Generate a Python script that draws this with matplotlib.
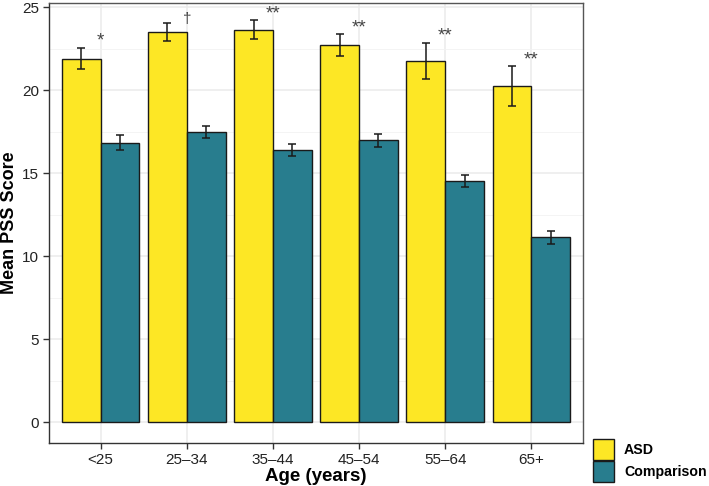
import numpy as np
import matplotlib.pyplot as plt
from matplotlib.patches import Patch

plt.rcParams['font.family'] = ['Liberation Sans', 'DejaVu Sans']

# values
age_groups = ['<25', '25-34', '35-44', '45-54', '55-64', '65+']
asd_mean = [21.9, 23.5, 23.65, 22.7, 21.75, 20.25]
asd_err = [0.65, 0.53, 0.55, 0.67, 1.1, 1.2]
comp_mean = [16.83, 17.49, 16.4, 16.97, 14.52, 11.13]
comp_err = [0.45, 0.36, 0.38, 0.4, 0.37, 0.4]
sig_labels = ['*', '\u2020', '**', '**', '**', '**']

asd_color = '#FDE725'
comp_color = '#287D8E'
edge = '#1a1a1a'

fig = plt.figure(figsize=(7.09, 4.86), dpi=100)
ax = fig.add_axes([0.0691, 0.0885, 0.7532, 0.9053])

x = np.arange(1, len(age_groups) + 1)
w = 0.45

ax.bar(x - w / 2, asd_mean, width=w, color=asd_color, edgecolor=edge, linewidth=1, zorder=2)
ax.bar(x + w / 2, comp_mean, width=w, color=comp_color, edgecolor=edge, linewidth=1, zorder=2)
ax.errorbar(x - w / 2, asd_mean, yerr=asd_err, fmt='none', ecolor=edge, elinewidth=1.1, capsize=3, capthick=1.1, zorder=3)
ax.errorbar(x + w / 2, comp_mean, yerr=comp_err, fmt='none', ecolor=edge, elinewidth=1.1, capsize=3, capthick=1.1, zorder=3)

# significance markers above the group centre (asterisks sit high in the glyph box)
for xi, m, e, lab in zip(x, asd_mean, asd_err, sig_labels):
    if lab == '\u2020':
        ax.text(xi, m + e + 0.0, lab, ha='center', va='baseline', fontsize=11,
                color='#444444', zorder=4, clip_on=False)
    else:
        ax.text(xi, m + e + 0.12, lab, ha='center', va='baseline', fontsize=13.5,
                color='#444444', zorder=4, clip_on=False)

ax.set_xlim(0.4, 6.6)
ax.set_ylim(-1.25, 25.25)
ax.set_xticks(x)
ax.set_xticklabels([g.replace('-', '\u2013') for g in age_groups])
ax.set_yticks([0, 5, 10, 15, 20, 25])
ax.set_yticks(np.arange(2.5, 25, 5), minor=True)

ax.grid(True, which='major', color='#EBEBEB', linewidth=1.1, zorder=0)
ax.grid(True, which='minor', axis='y', color='#F2F2F2', linewidth=0.6, zorder=0)
ax.set_axisbelow(True)

for s in ax.spines.values():
    s.set_color('#555555')
    s.set_linewidth(1)
ax.spines['left'].set_color('#333333')
ax.spines['bottom'].set_color('#333333')

ax.tick_params(axis='both', which='major', length=4, width=1, color='#333333',
               labelsize=11, labelcolor='#222222', pad=3)
ax.tick_params(axis='y', which='minor', length=0)

ax.set_xlabel('Age (years)', fontsize=13.5, fontweight='bold', labelpad=1)
ax.set_ylabel('Mean PSS Score', fontsize=13, fontweight='bold', labelpad=3)

handles = [Patch(facecolor=asd_color, edgecolor=edge, label='ASD'),
           Patch(facecolor=comp_color, edgecolor=edge, label='Comparison')]
fig.legend(handles=handles, loc='lower left', bbox_to_anchor=(593 / 709, 4 / 486), frameon=False,
           handlelength=1.48, handleheight=1.9, labelspacing=0.1, handletextpad=0.7,
           borderpad=0, borderaxespad=0, prop={'weight': 'bold', 'size': 10.2})

fig.savefig('out.png', dpi=100)
